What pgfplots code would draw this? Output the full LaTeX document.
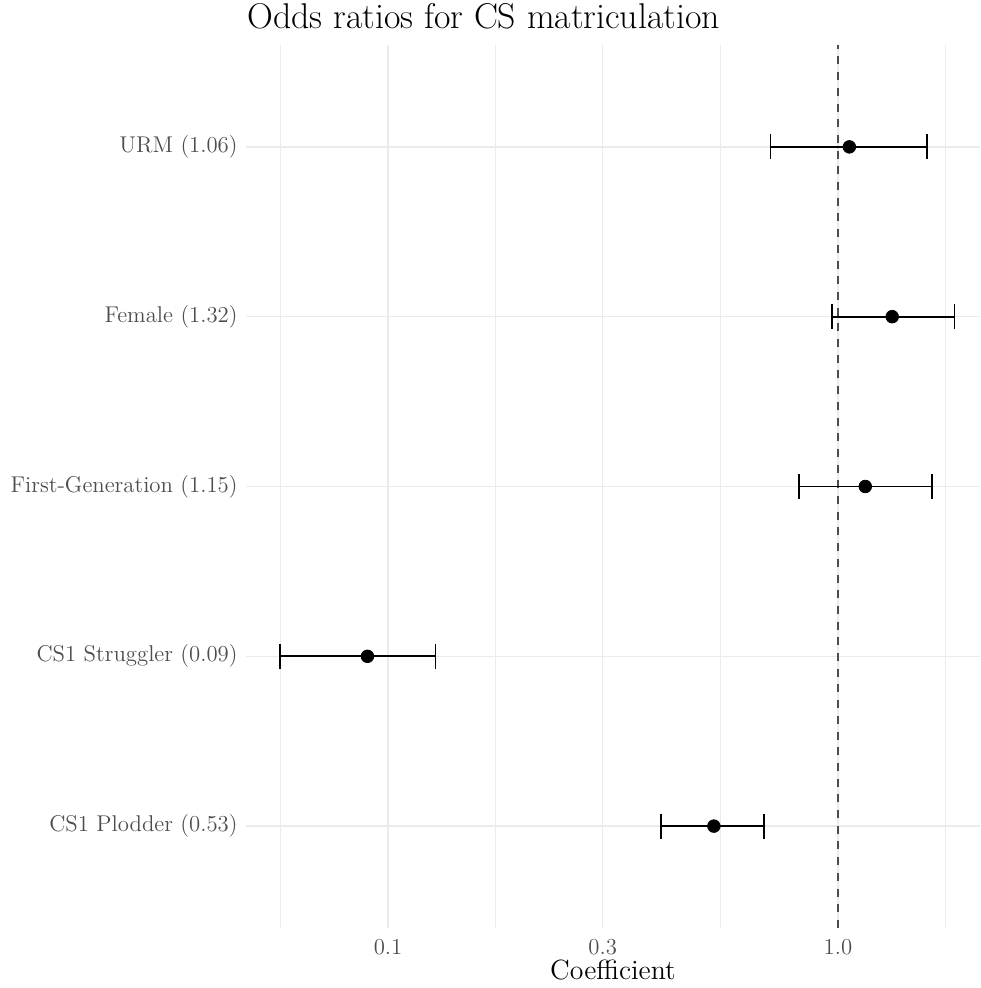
\documentclass[border=0pt]{standalone}
\usepackage{pgfplots}
\pgfplotsset{compat=1.18}
\definecolor{grid92}{HTML}{EBEBEB}
\definecolor{gray30}{HTML}{4D4D4D}

\begin{document}
\begin{tikzpicture}
\useasboundingbox (0pt,0pt) rectangle (490pt,494pt);
\begin{axis}[
  at={(123pt,30pt)}, anchor=south west,
  scale only axis, width=367pt, height=441.5pt,
  xmode=log, xmin=0.04834, xmax=2.0687,
  ymin=0.4, ymax=5.6,
  xtick={0.1,0.3,1}, xticklabels={0.1,0.3,1.0},
  minor xtick={0.05774,0.1732,0.5477,1.7321},
  ytick={1,2,3,4,5},
  yticklabels={CS1 Plodder (0.53), CS1 Struggler (0.09), First-Generation (1.15), Female (1.32), URM (1.06)},
  xmajorgrids, xminorgrids, ymajorgrids,
  major grid style={grid92, line width=0.65pt},
  minor grid style={grid92, line width=0.45pt},
  axis line style={draw=none},
  major tick length=0pt, minor tick length=0pt,
  tick style={draw=none},
  xticklabel style={font=\fontsize{11.4}{13}\selectfont, text=gray30, anchor=north, inner sep=0pt, yshift=-5.5pt},
  yticklabel style={font=\fontsize{11.4}{13}\selectfont, text=gray30, anchor=east, inner sep=0pt, xshift=-4pt},
  xlabel={Coefficient},
  xlabel style={at={(axis description cs:0.5,0)}, anchor=base, yshift=-25.5pt, inner sep=0pt, font=\fontsize{13.9}{16}\selectfont},
]
% reference line at an odds ratio of one
\addplot[gray30, line width=1pt, dash pattern=on 4pt off 3.85pt] coordinates {(1,0.4) (1,5.6)};

% 95% confidence intervals
\pgfplotsset{ci/.style={black, line width=0.85pt, mark=|, mark size=6.25pt, mark options={line width=0.65pt, solid}}}
\addplot[ci] coordinates {(0.709,5) (1.577,5)};
\addplot[ci] coordinates {(0.970,4) (1.817,4)};
\addplot[ci] coordinates {(0.819,3) (1.618,3)};
\addplot[ci] coordinates {(0.0575,2) (0.1274,2)};
\addplot[ci] coordinates {(0.404,1) (0.685,1)};

% point estimates
\addplot[only marks, mark=*, mark size=3.15pt, black] coordinates {
  (1.06,5) (1.32,4) (1.15,3) (0.09,2) (0.53,1)
};
\end{axis}
% plot title, left-aligned with the panel
\node[anchor=base west, inner sep=0pt, font=\fontsize{17.9}{21}\selectfont] at (123.5pt,479.5pt) {Odds ratios for CS matriculation};
\end{tikzpicture}
\end{document}
